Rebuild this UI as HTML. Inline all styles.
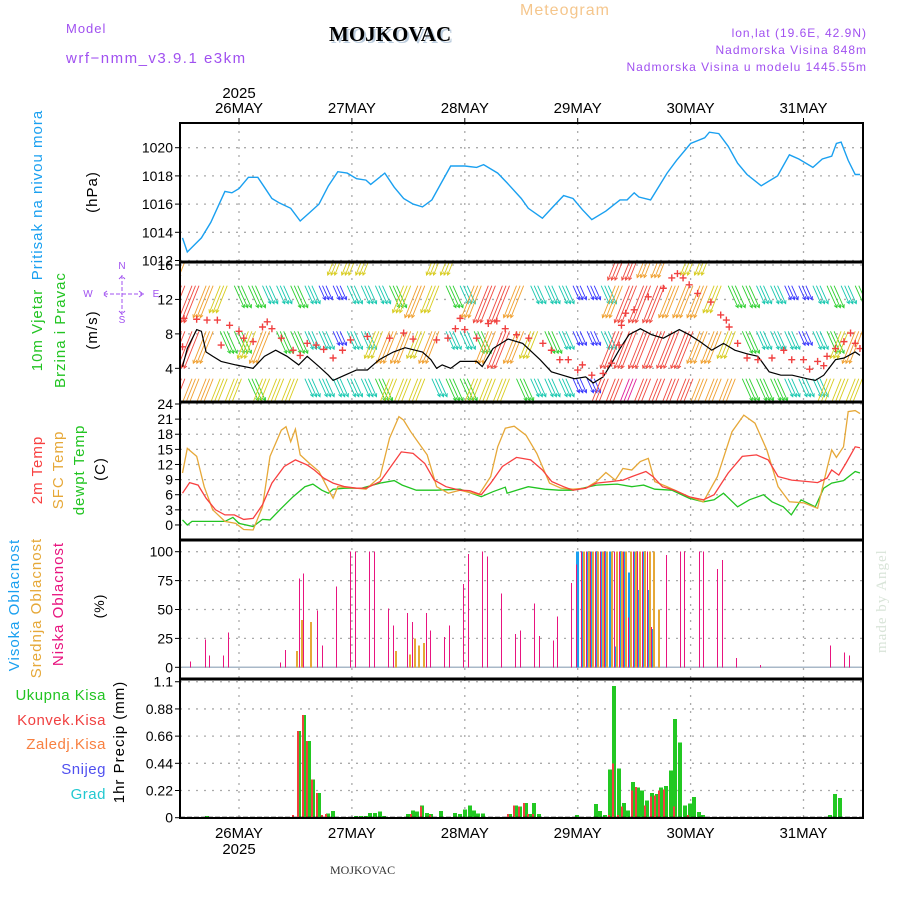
<!DOCTYPE html>
<html><head><meta charset="utf-8"><style>
html,body{margin:0;padding:0;background:#fff;}
svg{display:block;}
text{font-family:"Liberation Sans",sans-serif;}
text.serif{font-family:"Liberation Serif",serif;}
</style></head><body>
<svg id="c" width="900" height="900" viewBox="0 0 900 900" xmlns="http://www.w3.org/2000/svg">
<defs>
<clipPath id="cpP"><rect x="180" y="123" width="683" height="139"/></clipPath>
<clipPath id="cpW"><rect x="180" y="262" width="683" height="140"/></clipPath>
<clipPath id="cpT"><rect x="180" y="402" width="683" height="138"/></clipPath>
</defs>
<text x="520" y="15" font-size="16" fill="#f5c68c" letter-spacing="1">Meteogram</text>
<text x="66" y="33" font-size="13" fill="#a050f0" letter-spacing="1">Model</text>
<text x="66" y="63" font-size="15" fill="#a050f0" letter-spacing="1.5">wrf−nmm_v3.9.1  e3km</text>
<text class="serif" x="331" y="43" font-size="21" font-weight="bold" fill="#bcd">MOJKOVAC</text>
<text class="serif" x="329" y="41" font-size="21" font-weight="bold" fill="#000">MOJKOVAC</text>
<text x="867" y="37" font-size="12" fill="#a050f0" text-anchor="end" letter-spacing="1">lon,lat (19.6E, 42.9N)</text>
<text x="867" y="54" font-size="12" fill="#a050f0" text-anchor="end" letter-spacing="1">Nadmorska Visina 848m</text>
<text x="867" y="71" font-size="12" fill="#a050f0" text-anchor="end" letter-spacing="1">Nadmorska Visina u modelu 1445.55m</text>
<text class="serif" x="330" y="874" font-size="12" fill="#333">MOJKOVAC</text>
<text class="serif" transform="translate(886,653) rotate(-90)" font-size="15" fill="#d8e4d8" letter-spacing="1">made by Angel</text>
<g id="g"></g>
</svg>
<script>
// ---- data ----
const dayLabels=["26MAY","27MAY","28MAY","29MAY","30MAY","31MAY"];
const pTicks=[1012,1014,1016,1018,1020];
const wTicks=[4,8,12,16];
const tTicks=[0,3,6,9,12,15,18,21,24];
const cTicks=[0,25,50,75,100];
const rTicks=[0,0.22,0.44,0.66,0.88,1.1];
const presH=[-12,-11,-8,-6,-3,-1.5,0,2,4,5.4,7,8.5,11,13,15,17,19,21,23,25,27,28,31,33,35,37,39,41,43,45,48,50.5,52,55,57,60,61.5,64.5,67,69,71,73,75,78,81,82.5,84,85,87.5,91,93,96,99,100,102,104,106,108,111,114.5,117,119,122,124,126,127,128,129.5,131,132];
const presV=[1013.6,1012.6,1013.6,1014.7,1016.9,1016.8,1017.1,1017.9,1017.9,1017.2,1016.4,1016.1,1015.7,1014.8,1015.4,1016,1017.3,1018.3,1018.2,1017.8,1017.7,1017.4,1018.2,1017.2,1016.4,1016,1015.8,1016.3,1017.5,1018.7,1018.7,1018.6,1018.8,1018.2,1017.5,1016.4,1015.7,1015,1015.9,1016.6,1016.4,1015.6,1014.9,1015.5,1016.3,1016.3,1016.8,1016.5,1016.3,1018.2,1019.1,1020.3,1020.7,1021.1,1021,1020.1,1018.9,1018.1,1017.3,1018,1019.5,1019.2,1018.6,1019.2,1019.4,1020.3,1020.4,1019.1,1018.1,1018.1];
const t2H=[-12,-10.5,-8.7,-7,-5,-3,-1,1,3,5,7,9.6,12,14.5,16,18,20,22.5,25,27,30,32,34.5,37,39.5,41.5,44,47,49,51.5,53.5,56,59,62,64.5,66.5,69,71,73.7,76,79,81.6,83.5,86.5,88,90,92.6,95.6,98.7,101,104,107,110,112.5,114.6,117.5,121,123,125,126,127.5,129,131,132];
const t2V=[6.3,8.4,7.9,5.3,3,2,2,1.1,1.3,4,8.3,11.6,12.9,11.9,10.9,9.3,8.3,7.6,7.3,7.3,8.6,11.2,14.5,14.2,12.2,8.9,7.6,6.9,6.8,6,8.3,11.6,13.4,12.9,10.9,8.6,7.6,6.9,7.3,8.3,8.6,8.9,9.6,10.6,9.6,7.6,6.9,5.6,5,6,10.3,13.6,13.9,12.9,9.6,8.9,8.6,8.4,9.3,10.9,9.9,12.2,15.5,15.3];
const sfcH=[-12,-11,-9,-7.4,-5.6,-3,-0.7,1,3,5,6.6,9,10,11,12,13,15,17,19,20,21,25,27,30,32,34,35,36.5,38,40,42,44.5,47,51,53.5,55,56.6,58.5,61,63.3,66,68.5,71,73.7,76,78,80,81.6,83.5,85.3,87,88.4,91,95.7,98.7,101.7,104.8,107.3,109.7,112.2,114.6,117,120,123,125,126,127,128.5,129.5,131,132];
const sfcV=[10.3,15.2,13.6,7.6,3,0.7,0.3,-0.9,-1,3.6,13.6,18.8,19.5,16.5,19,13.9,12.2,10.6,7,5.3,7.6,7.3,7.1,9.6,17.2,21.5,20.8,18.5,16.5,13.9,7.6,6.3,6.9,6,9.6,15.5,19.2,19.6,17.8,14.2,8.3,7.3,7.1,7.3,8.6,10.4,8.9,11.2,10.9,12.6,13.2,8.6,7.6,5.6,4.6,9.6,18.5,21.8,20.2,14.9,7.6,4.6,4.4,3.3,11.2,14.9,13.4,15.5,22.5,22.7,22.1];
const dewH=[-12,-11,-10,-7,-3,-1.3,0,3,5,6.6,9,11.5,14,15.7,17.6,19,20,22.5,26,30,33,34.7,37.7,42,47,51.5,54,56.6,57,59,61.5,65,68,71,76,80.4,83.5,86,88.4,92,95.7,98.7,101,103,106,108.5,111.5,113.3,115.7,117.4,119.5,122.5,124.3,126,128.5,131,132];
const dewV=[1,0,0.7,0.7,0.7,1.5,0.3,-0.3,1.1,1,3.3,5.6,7.6,8.1,6.9,6.3,7.1,7.3,7.3,8.3,8.8,7.9,6.9,6.9,7.1,5.6,6.6,7.5,6.3,6.9,7.6,7.1,6.9,6.9,7.9,8.1,7.6,7.9,7.1,6.9,5.3,4.6,5,6.3,3.6,5,6,4.6,3.6,2,5,3.6,7.3,8.3,8.8,10.6,10.3];
const wsH=[-12,-11,-9,-8,-7,-5.6,-3.8,-0.7,3,5.4,7.8,10.2,12.7,14.5,17,19,20,22.5,25,27.3,29.8,32.8,35.3,39,40.8,42,43.2,45,47,50.5,51.7,54,57.2,60.3,64,66.4,68.8,71.3,73.7,75.3,77.4,79.2,81,82.9,85.3,87.7,90.2,93.6,95.7,98,100.5,103,105.4,107.9,110.3,112.7,115.2,117.6,120.7,122.5,124.3,126.8,128.6,131,132];
const wsV=[4.2,6.3,8.5,8.3,5.9,5.4,4.8,4.4,4,5.4,6.1,5.4,4.4,5.4,4.2,3.2,2.6,3.2,3.8,3.8,5,5.9,6.4,5.9,5,4,4.4,4,4.8,4.8,4.2,6.3,7.4,6.9,5,3.6,3.2,2.8,3,2.3,3,4.6,6.3,7.9,8.6,7.9,7.5,8.5,7.9,7.1,6.1,6.9,6.1,5.7,5.4,3.6,3.2,3.2,2.8,2.6,3.2,5,5.2,5.9,5.5];
const gustH=[-12,-11.7,-9,-6.8,-4.6,-3.8,-2,0,1,3,5,6,7,9,11.5,13,14.5,16.4,18,20,22,23.7,27.3,32,35,37,42,44.4,46,47,48,50.5,53,54.8,56.6,59,61.6,64.6,66.4,68.2,70,72,73,75,77.4,79.2,80.8,81.3,82.2,84,87,90.2,92,93.2,94.4,95.7,97.5,100.3,102.4,103.6,104.2,106,108,110.3,113.3,115.8,117.5,120,121.3,123,124.3,125,126.8,128.6,130,131,132];
const gustV=[6.5,9.8,9.7,9.6,9.6,6.7,9,8.3,7.5,7.1,8.8,9.4,8.6,7.5,6.1,5.5,6.9,6.7,6.2,5.2,6.1,7.3,7.7,7.5,8.1,7.4,7.3,7.5,8.6,9.8,8.5,7.5,9.2,9.5,8.6,7.9,7.5,6.9,6.1,5,5,3.8,4.4,3.2,3.4,4.6,6.7,9,10.4,10.8,12.3,13.3,14.5,15,14.5,13.7,12.7,11.7,10.2,9.6,8.8,6.9,5.2,5,5.2,6.1,5,5,3.9,4.8,4.3,5.4,6.3,7.1,8.1,6.9,6.3];
// wind speed classes per level (3-hourly from -12h)
const windH0=-12, windStep=3;
const windRow0=[4,-1,-1,-1,-1,-1,-1,-1,-1,-1,-1,3,3,3,-1,-1,-1,-1,3,3,-1,-1,-1,-1,-1,-1,-1,-1,-1,-1,-1,5,5,4,4,-1,3,3,-1,-1,-1,-1,-1,-1,-1,-1,-1,-1,-1];
const windRow1=[5,5,4,3,2,2,1,1,2,1,0,0,1,1,1,2,3,4,3,2,1,4,5,5,4,1,1,1,0,0,1,4,5,5,5,4,4,4,3,2,2,1,1,0,0,1,2,1,2];
const windRow2=[5,5,4,2,2,3,4,2,2,1,1,0,1,1,3,4,4,3,4,1,1,2,4,5,4,3,2,1,0,0,1,5,5,5,5,5,5,4,4,3,2,1,1,1,0,1,2,3,4];
const windRow3=[5,4,4,3,3,2,3,3,3,1,1,1,1,1,2,3,3,3,1,2,2,3,3,3,2,1,1,1,0,0,5,5,6,5,5,5,5,4,4,4,2,2,2,1,1,1,3,3,3];
const windLevels=[16.4,13.6,8.3,2.8];
// clouds
const lowH=[-10,-7,-6,-3,-2,9,10,13,14,17,18,21,24,25,28,29,32,33,36,37,40,41,44,45,48,49,52,53,56,59,60,63,64,67,68,71,72,73,74,75,76,77,78,79,80,81,82,83,84,85,86,87,88,91,94,95,98,99,102,103,106,111,126,129,130];
const lowV=[5,24,10,10,30,4,15,77,81,49,19,70,100,100,100,100,51,36,47,39,47,32,26,36,72,98,100,96,64,29,32,55,27,23,44,73,89,100,100,100,100,100,100,0,100,100,100,43,100,100,100,100,35,97,100,100,100,100,85,93,8,2,19,13,10];
const midH=[12,13,15,33,36,37,38,39,72,73,74,75,76,77,78,79,80,81,82,83,84,85,86,87,88,89];
const midV=[14,41,39,14,11,25,19,21,0,100,100,100,100,100,100,100,100,100,100,100,100,100,100,100,100,50];
const highH=[72,73,74,75,76,77,78,79,80,81,82,83,84,85,86,87,88];
const highV=[100,100,100,100,100,100,100,100,18,100,100,82,100,67,100,67,33];
// precipitation
const totH=[-7,12.7,13.8,14.7,15.7,16.8,18.8,19.8,24.8,25.8,26.8,27.7,28.7,29.8,30.8,35.8,36.8,37.8,38.8,39.8,40.8,42.8,45.8,46.8,47.9,48.9,49.8,50.8,51.7,57.5,58.7,59.7,60.8,61.7,62.7,63.7,71.7,75.8,76.7,77.7,78.8,79.7,80.7,81.7,82.6,83.7,84.7,85.6,86.6,87.7,88.7,89.6,90.6,91.7,92.6,93.6,94.6,95.7,96.6,97.6,98.6,125.5,126.6,127.6];
const totV=[0.013,0.70,0.83,0.62,0.31,0.20,0.035,0.054,0.013,0.013,0.013,0.04,0.04,0.05,0.013,0.03,0.06,0.05,0.10,0.04,0.03,0.054,0.04,0.03,0.067,0.10,0.06,0.035,0.035,0.03,0.10,0.09,0.12,0.03,0.12,0.03,0.02,0.11,0.054,0.02,0.39,1.065,0.40,0.12,0.06,0.29,0.245,0.22,0.14,0.20,0.19,0.245,0.256,0.38,0.80,0.61,0.10,0.116,0.167,0.045,0.02,0.02,0.19,0.16];
const convH=[11.7,12.7,13.8,14.7,15.7,16.8,17.8,18.8,36.8,38.8,40.8,57.5,58.7,59.7,60.8,61.7,62.7,78.8,79.7,80.7,81.7,83.7,84.7,86.6,87.7,88.7,89.6,90.6,92.6,95.7];
const convV=[0.02,0.70,0.83,0.62,0.31,0.20,0.02,0.03,0.03,0.09,0.02,0.03,0.10,0.09,0.12,0.03,0.03,0.02,0.44,0.02,0.09,0.22,0.25,0.10,0.17,0.18,0.22,0.23,0.09,0.02];

// ---- scales ----
const L=180,R=863;
const X=h=>239+h*112.9/24;
const YP=v=>147.7+(1020-v)*14.1;
const YW=v=>265+(16-v)*8.61;
const YT=v=>404+(24-v)*5.04;
const YC=v=>551.7+(100-v)*1.156;
const YR=v=>817.7-v*123.6;
const NS="http://www.w3.org/2000/svg";
const G=document.getElementById('g');
function mk(tag,attrs,parent){const e=document.createElementNS(NS,tag);for(const k in attrs)e.setAttribute(k,attrs[k]);(parent||G).appendChild(e);return e;}
function txt(x,y,s,attrs,parent){const e=mk('text',Object.assign({x:x,y:y},attrs||{}),parent);e.textContent=s;return e;}

const panels=[
 {name:'pressure',top:123,bot:262,ticks:pTicks,Y:YP},
 {name:'wind',top:262,bot:402,ticks:wTicks,Y:YW},
 {name:'temperature',top:402,bot:540,ticks:tTicks,Y:YT},
 {name:'cloud',top:540,bot:679,ticks:cTicks,Y:YC},
 {name:'precip',top:679,bot:818,ticks:rTicks,Y:YR}
];
panels.forEach(p=>{
  const g=mk('g',{});
  
  
  for(let d=0;d<6;d++){
    const l=mk('line',{x1:X(d*24),x2:X(d*24),y1:p.top,y2:p.bot,stroke:'#aaa','stroke-width':1.3,'stroke-dasharray':'2,6'},g);
    
    
  }
  p.ticks.forEach(v=>{
    const y=p.Y(v);
    if(y>p.top+1&&y<p.bot-1){
      const l=mk('line',{x1:L,x2:R,y1:y,y2:y,stroke:'#aaa','stroke-width':1.3,'stroke-dasharray':'2,6'},g);
      
      
    }
    const tk=mk('line',{x1:L-5,x2:L,y1:y,y2:y,stroke:'#000'},g);
    
    
    const t=txt(L-7,y+5,String(v),{'font-size':14,'text-anchor':'end',fill:'#000'},g);
    
    
  });
});

function line(hs,vs,Y,color,w,clip,name){
  const d=hs.map((h,i)=>(i?'L':'M')+X(h).toFixed(1)+','+Y(vs[i]).toFixed(1)).join('');
  const e=mk('path',{d:d,fill:'none',stroke:color,'stroke-width':w,'clip-path':'url(#'+clip+')'});
  
  
}
line(presH,presV,YP,'#1aa0f0',1.4,'cpP','pressure-line');

// wind arrows
const wColors=['#3535ff','#18c8b0','#2ed030','#d8cc20','#f0a030','#f04a40','#e0209a'];
const wLen=[14,18,22,27,32,37,40];
const wg=mk('g',{'clip-path':'url(#cpW)'});


[windRow0,windRow1,windRow2,windRow3].forEach((row,r)=>{
  const y0=YW(windLevels[r]);
  row.forEach((c,i)=>{
    if(c<0)return;
    for(let k=-1;k<=1;k+=0.75){
      const x0=X(windH0+i*windStep+k);
      const len=wLen[c]*(r===0?0.5:1);
      const dx=(c>=3?-0.4:0.45)*len;
      const x1=x0+dx,y1=y0+len;
      const ang=Math.atan2(y1-y0,x1-x0);
      const a1=ang+Math.PI-0.5,a2=ang+Math.PI+0.5;
      const d='M'+x0.toFixed(1)+','+y0.toFixed(1)+'L'+x1.toFixed(1)+','+y1.toFixed(1)+
        'M'+(x1+3.5*Math.cos(a1)).toFixed(1)+','+(y1+3.5*Math.sin(a1)).toFixed(1)+'L'+x1.toFixed(1)+','+y1.toFixed(1)+
        'L'+(x1+3.5*Math.cos(a2)).toFixed(1)+','+(y1+3.5*Math.sin(a2)).toFixed(1);
      const a=mk('path',{d:d,stroke:wColors[c],'stroke-width':0.9,fill:'none'},wg);
      
      
    }
  });
});
line(wsH,wsV,YW,'#000',1.2,'cpW','wind-speed-line');
const gg=mk('g',{'clip-path':'url(#cpW)'});


gustH.forEach((h,i)=>{
  const x=X(h),y=YW(gustV[i]);
  const m=mk('path',{d:`M${x-3.5},${y}L${x+3.5},${y}M${x},${y-3.5}L${x},${y+3.5}`,stroke:'#f04040','stroke-width':1.4},gg);
  
  
});

// temperature
line(dewH,dewV,YT,'#22c422',1.3,'cpT','dewpoint-line');
line(sfcH,sfcV,YT,'#e6a838',1.3,'cpT','sfc-temp-line');
line(t2H,t2V,YT,'#f84040',1.3,'cpT','temp-2m-line');

// cloud bars
const cb=mk('line',{x1:L+2,x2:R-2,y1:YC(0),y2:YC(0),stroke:'#a8b8c8','stroke-width':1.5});


function bars(hs,vs,Y,color,w,off,name){
  hs.forEach((h,i)=>{
    if(vs[i]<=0)return;
    const x=Math.round(X(h)+off-w/2),y=Y(vs[i]),y0=Y(0);
    const b=mk('rect',{x:x,y:y.toFixed(1),width:w,height:(y0-y).toFixed(1),fill:color,'shape-rendering':'crispEdges'});
    
    
  });
}
bars(highH,highV,YC,'#1aa0f0',3,0,'high-cloud-bar');
bars(midH,midV,YC,'#e6a838',2,1.5,'mid-cloud-bar');
bars(lowH,lowV,YC,'#e8147f',1,-1,'low-cloud-bar');

// precip
bars(totH,totV,YR,'#22c822',4,0.5,'total-precip-bar');
bars(convH,convV,YR,'#f04040',2,-1,'convective-precip-bar');
const pb=mk('line',{x1:L,x2:R,y1:YR(0),y2:YR(0),stroke:'#000','stroke-width':2,'stroke-dasharray':'5,2'});



// panel borders
panels.forEach(p=>{
  const b=mk('rect',{x:L,y:p.top,width:R-L,height:p.bot-p.top,fill:'none',stroke:'#000','stroke-width':2});
  
  
});
[262,402,540,679].forEach(y=>{
  const b=mk('line',{x1:L,x2:R,y1:y,y2:y,stroke:'#000','stroke-width':3});
  
  
});

// day labels
dayLabels.forEach((s,d)=>{
  const x=X(d*24);
  const t1=txt(x,113,s,{'font-size':15,'text-anchor':'middle',fill:'#000'});
  
  
  const t2=txt(x,838,s,{'font-size':15,'text-anchor':'middle',fill:'#000'});
  
  
  const tk=mk('line',{x1:x,x2:x,y1:118,y2:123,stroke:'#000'});
  
  
});
const y1=txt(X(0),98,'2025',{'font-size':15,'text-anchor':'middle'});


const y2=txt(X(0),854,'2025',{'font-size':15,'text-anchor':'middle'});



// axis titles
function vt(x,y,s,color,size,name){
  const t=txt(0,0,s,{transform:`translate(${x},${y}) rotate(-90)`,'font-size':size,fill:color,'text-anchor':'middle','letter-spacing':1});
  
  
}
vt(42,195,'Pritisak na nivou mora','#1aa0f0',15,'pressure-title');
vt(97,192,'(hPa)','#000',15,'pressure-unit');
vt(42,330,'10m Vjetar','#22c422',15,'wind-title');
vt(65,330,'Brzina i Pravac','#22c422',15,'wind-subtitle');
vt(97,330,'(m/s)','#000',15,'wind-unit');
vt(42,470,'2m Temp','#f84040',15,'temp-2m-title');
vt(63,470,'SFC Temp','#e6a838',15,'sfc-temp-title');
vt(84,470,'dewpt Temp','#22c422',15,'dewpoint-title');
vt(105,469,'(C)','#000',15,'temp-unit');
vt(19,605,'Visoka Oblacnost','#1aa0f0',15,'high-cloud-title');
vt(41,608,'Srednja Oblacnost','#e6a838',15,'mid-cloud-title');
vt(63,604,'Niska Oblacnost','#e8147f',15,'low-cloud-title');
vt(104,606,'(%)','#000',14,'cloud-unit');
vt(124,742,'1hr Precip (mm)','#000',15,'precip-title');
const leg=[['Ukupna Kisa','#22c422',700],['Konvek.Kisa','#f04040',725],['Zaledj.Kisa','#f88040',749],['Snijeg','#5050f0',774],['Grad','#20c8d0',799]];
leg.forEach(l=>{
  const t=txt(106,l[2],l[0],{'font-size':15,fill:l[1],'text-anchor':'end','letter-spacing':0.5});
  
  
});
// compass
const cg=mk('g',{});


txt(122,269,'N',{'text-anchor':'middle',fill:'#a050f0','font-size':10},cg);
txt(88,297,'W',{'text-anchor':'middle',fill:'#a050f0','font-size':10},cg);
txt(156,297,'E',{'text-anchor':'middle',fill:'#a050f0','font-size':10},cg);
txt(122,323,'S',{'text-anchor':'middle',fill:'#a050f0','font-size':10},cg);
mk('path',{d:'M104,294L146,294M122,275L122,316M107,291L103,294L107,297M139,291L143,294L139,297M119,279L122,276L125,279M119,311L122,314L125,311',stroke:'#a050f0','stroke-width':1,fill:'none','stroke-dasharray':'4,2'},cg);
</script>
</body></html>
